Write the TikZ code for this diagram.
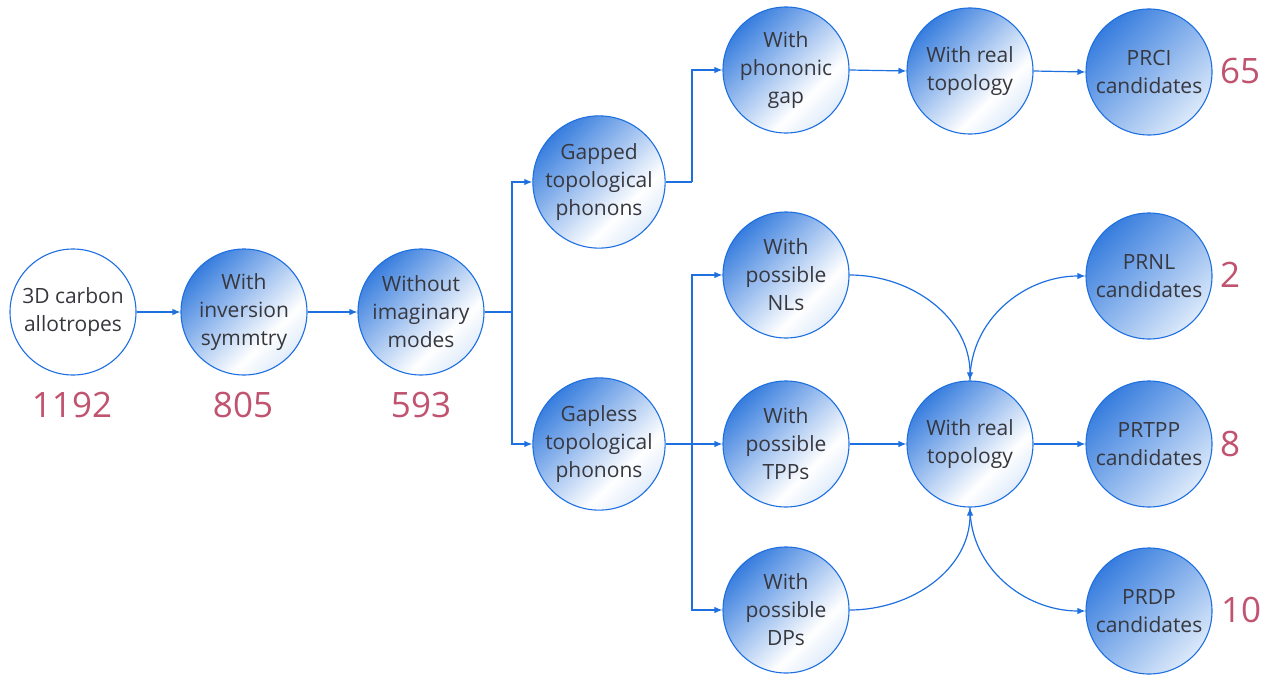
\documentclass[tikz,border=0pt]{standalone}
\usepackage{fontspec}
\setmainfont{Open Sans}
\usetikzlibrary{arrows.meta}
\definecolor{lineblue}{RGB}{30,112,225}
\definecolor{fillblue}{RGB}{55,125,222}
\definecolor{lightfill}{RGB}{205,224,248}
\definecolor{numred}{RGB}{192,84,112}
\definecolor{txt}{RGB}{55,55,62}
\pgfdeclareverticalshading{bubble}{100bp}{color(0bp)=(lightfill!60!white); color(25bp)=(lightfill!60!white); color(36bp)=(white); color(75bp)=(fillblue); color(100bp)=(fillblue)}
\pgfdeclareverticalshading{bubbledark}{100bp}{color(0bp)=(lightfill!70!white); color(25bp)=(lightfill!70!white); color(75bp)=(fillblue); color(100bp)=(fillblue)}
\tikzset{
  basebub/.style={circle, draw=lineblue, line width=1.1pt, minimum size=126pt, inner sep=0pt, align=center,
    font=\fontsize{21}{28}\selectfont, text=txt},
  plainbub/.style={basebub, fill=white},
  bub/.style={basebub, shading=bubble, shading angle=45},
  darkbub/.style={basebub, shading=bubbledark, shading angle=45},
  num/.style={text=numred, font=\fontsize{35}{40}\selectfont, inner sep=0pt},
  conn/.style={draw=lineblue, line width=1.2pt, -{Latex[length=8pt,width=6.5pt]}},
  wire/.style={draw=lineblue, line width=1.2pt}
}
\begin{document}
\begin{tikzpicture}[x=1pt,y=-1pt]
\useasboundingbox (0,0) rectangle (1277,677);
% nodes
\node[plainbub] (A) at (73,312) {3D carbon\\allotropes};
\node[bub] (B) at (244,312) {With\\inversion\\symmtry};
\node[bub] (C) at (421,312) {Without\\imaginary\\modes};
\node[bub] (D) at (599,182) {Gapped\\topological\\phonons};
\node[bub] (E) at (599,444) {Gapless\\topological\\phonons};
\node[bub] (F) at (786,70) {With\\phononic\\gap};
\node[bub] (G) at (970,71) {With real\\topology};
\node[darkbub] (H) at (1149,72) {PRCI\\candidates};
\node[bub] (I) at (786,275) {With\\possible\\NLs};
\node[bub] (J) at (786,444) {With\\possible\\TPPs};
\node[bub] (K) at (786,610) {With\\possible\\DPs};
\node[bub] (L) at (970,444) {With real\\topology};
\node[darkbub] (M) at (1149,276) {PRNL\\candidates};
\node[darkbub] (N) at (1149,444) {PRTPP\\candidates};
\node[darkbub] (O) at (1149,611) {PRDP\\candidates};
% numbers
\node[num] (nA) at (72,405) {1192};
\node[num] (nB) at (243,405) {805};
\node[num] (nC) at (421,405) {593};
\node[num] (nH) at (1240,71) {65};
\node[num] (nM) at (1230,275) {2};
\node[num] (nN) at (1230,444) {8};
\node[num] (nO) at (1241,610) {10};
% connectors
\coordinate (s1) at (512,312);
\coordinate (s2) at (692,182);
\coordinate (s3) at (692,444);
\draw[conn] (A.east) -- (B.west);
\draw[conn] (B.east) -- (C.west);
\draw[wire] (C.east) -- (s1);
\draw[conn] (s1) |- (D.west);
\draw[conn] (s1) |- (E.west);
\draw[wire] (D.east) -- (s2);
\draw[conn] (s2) |- (F.west);
\draw[conn] (E.east) -- (J.west);
\draw[conn] (s3) |- (I.west);
\draw[conn] (s3) |- (K.west);
\draw[conn] (F.east) -- (G.west);
\draw[conn] (G.east) -- (H.west);
\draw[conn] (I.east) to[out=0,in=90] (L.north);
\draw[conn] (J.east) -- (L.west);
\draw[conn] (K.east) to[out=0,in=-90] (L.south);
\draw[conn] (L.north) to[out=90,in=180] (M.west);
\draw[conn] (L.east) -- (N.west);
\draw[conn] (L.south) to[out=-90,in=180] (O.west);
\end{tikzpicture}
\end{document}
